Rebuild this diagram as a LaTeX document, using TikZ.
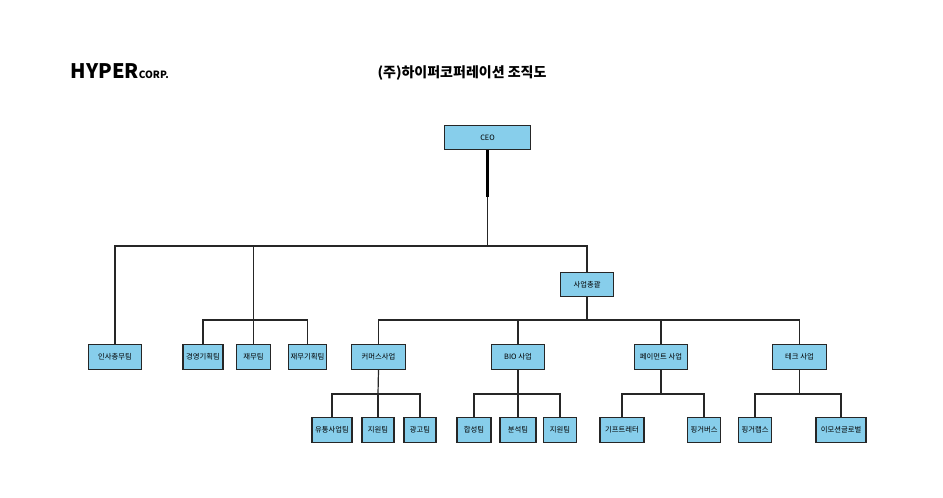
\documentclass[tikz,border=0pt]{standalone}
\usepackage{fontspec}
\setmainfont{Noto Sans CJK KR}
\newfontfamily\kr{Noto Sans CJK KR}
\begin{document}
\begin{tikzpicture}[x=0.75pt,y=-0.75pt,
  box/.style={draw=black!85,line width=0.9pt,fill=cyan!35!blue!20!white,fill=skyblue,minimum height=18.5pt,inner sep=0pt,font=\kr\fontsize{5.5}{6}\selectfont},
  ln/.style={line width=0.9pt,draw=black!85}]
\definecolor{skyblue}{HTML}{87CEEB}
\useasboundingbox (0,0) rectangle (943,498);
\node[font=\kr\bfseries\fontsize{15}{16}\selectfont,anchor=west] (logo) at (66,71) {HYPER\raisebox{0pt}{\fontsize{7.5}{8}\selectfont CORP.}};
\node[font=\kr\bfseries\fontsize{10.5}{12}\selectfont] (title) at (462,73) {(주)하이퍼코퍼레이션 조직도};
\node[box,minimum width=65pt] (ceo) at (487.5,137.5) {CEO};
\node[box,minimum width=40pt] (hq) at (587,284.5) {사업총괄};
\node[box,minimum width=40pt] (hr) at (115,357) {인사총무팀};
\node[box,minimum width=30pt] (plan) at (203,357) {경영기획팀};
\node[box,minimum width=26pt] (fin) at (253.5,357) {재무팀};
\node[box,minimum width=29pt] (finp) at (307.5,357) {재무기획팀};
\node[box,minimum width=40pt] (com) at (378.5,357) {커머스사업};
\node[box,minimum width=40pt] (bio) at (518,357) {BIO 사업};
\node[box,minimum width=40pt] (pay) at (661,357) {페이먼트 사업};
\node[box,minimum width=40pt] (tech) at (799.5,357) {테크 사업};
\node[box,minimum width=30pt] (c1) at (332,430) {유통사업팀};
\node[box,minimum width=24pt] (c2) at (378,430) {지원팀};
\node[box,minimum width=24pt] (c3) at (420,430) {광고팀};
\node[box,minimum width=25.5pt] (b1) at (474,430) {합성팀};
\node[box,minimum width=27pt] (b2) at (518,430) {분석팀};
\node[box,minimum width=25pt] (b3) at (560,430) {지원팀};
\node[box,minimum width=33pt] (p1) at (622,430) {기프트레터};
\node[box,minimum width=25pt] (p2) at (704,430) {핑거버스};
\node[box,minimum width=25pt] (t1) at (755,430) {핑거랩스};
\node[box,minimum width=37.5pt] (t2) at (841,430) {이모션글로벌};
\coordinate (j0) at (487.5,246);
\coordinate (j1) at (587,320);
\draw[line width=2pt] (ceo.south) -- (487.5,197);
\draw[ln] (487.5,197) -- (j0);
\draw[ln] (hr.north) |- (j0) -| (hq.north);
\draw[ln] (fin.north) -- (fin.north |- j0);
\draw[ln] (plan.north) |- (253.5,320) -| (finp.north);
\draw[ln] (hq.south) -- (j1);
\draw[ln] (com.north) |- (j1) -| (tech.north);
\draw[ln] (bio.north) -- (bio.north |- j1);
\draw[ln] (pay.north) -- (pay.north |- j1);
\draw[ln] (com.south) -- (378,394);
\draw[ln] (c1.north) |- (378,394) -| (c3.north);
\draw[ln] (c2.north) -- (378,394);
\draw[ln] (bio.south) -- (518,394);
\draw[ln] (b1.north) |- (518,394) -| (b3.north);
\draw[ln] (b2.north) -- (518,394);
\draw[ln] (pay.south) -- (661,394);
\draw[ln] (p1.north) |- (661,394) -| (p2.north);
\draw[ln] (tech.south) -- (799.5,394);
\draw[ln] (t1.north) |- (799.5,394) -| (t2.north);
\end{tikzpicture}
\end{document}
